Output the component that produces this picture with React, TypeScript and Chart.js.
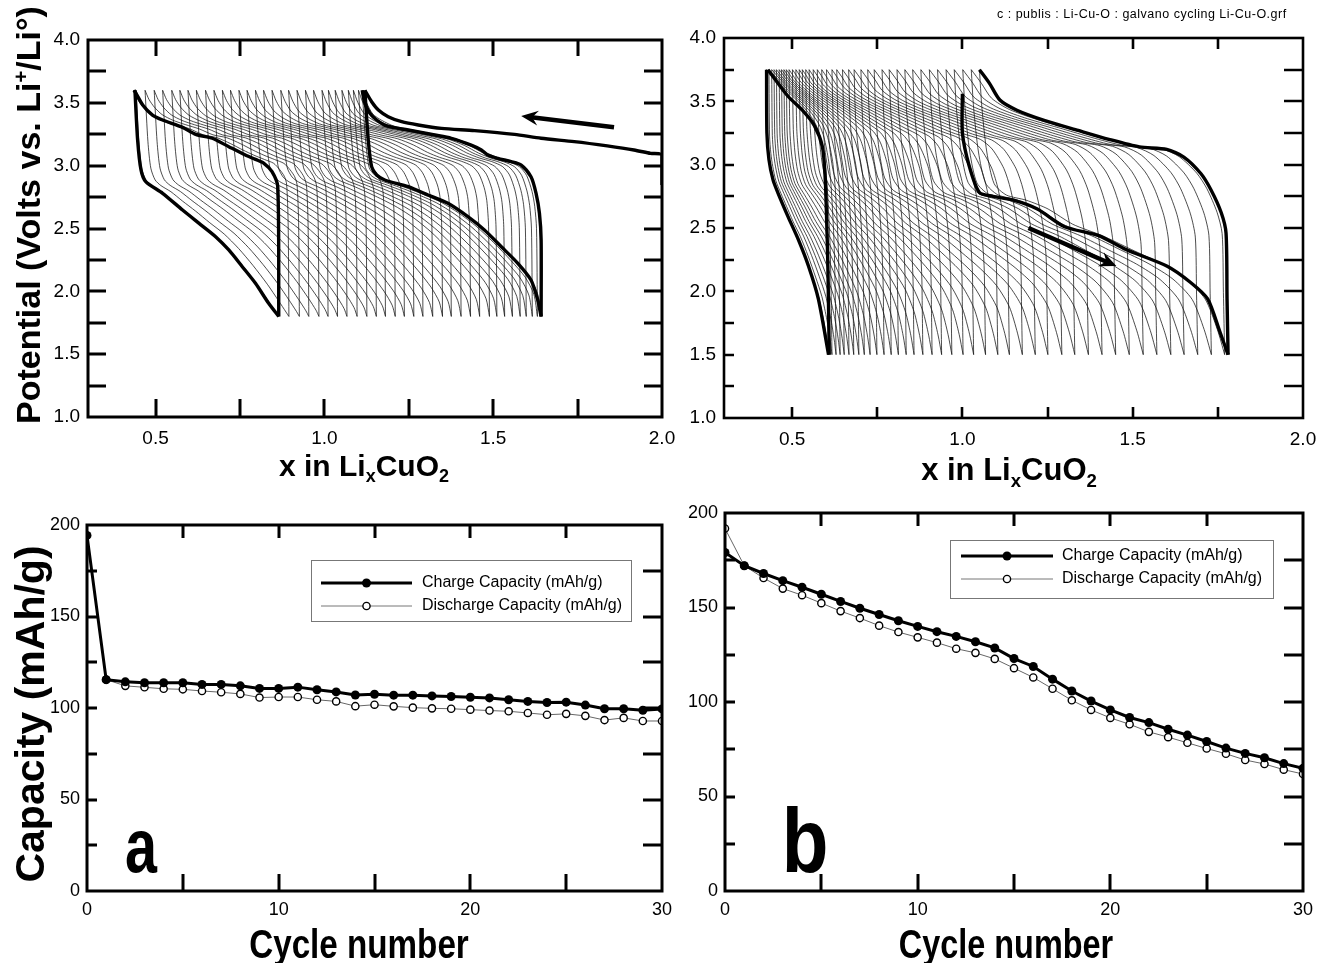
import React, { useEffect, useRef } from 'react';
import { Chart, registerables } from 'chart.js';
Chart.register(...registerables);

// ---------------- Capacity data (panels a, b) ----------------
const capCycles = [0, 1, 2, 3, 4, 5, 6, 7, 8, 9, 10, 11, 12, 13, 14, 15, 16, 17, 18, 19, 20, 21, 22, 23, 24, 25, 26, 27, 28, 29, 30];
const chargeA = [194.3, 115.5, 114.3, 113.8, 113.8, 113.8, 112.9, 112.9, 112.1, 110.7, 110.7, 111.4, 110.0, 108.8, 107.1, 107.5, 107.0, 107.0, 106.6, 106.3, 105.9, 105.5, 104.5, 103.6, 103.0, 103.2, 101.6, 99.6, 99.6, 98.8, 99.5];
const dischargeA = [null, 115.5, 112.1, 111.3, 110.5, 110.2, 109.3, 108.6, 107.7, 105.7, 106.0, 106.0, 104.5, 103.6, 101.0, 101.8, 100.9, 100.2, 99.8, 99.6, 99.1, 98.6, 98.2, 97.3, 96.3, 96.8, 95.7, 93.4, 94.6, 92.9, 92.9];
const chargeB = [179.1, 172.1, 168.0, 164.2, 160.7, 157.0, 153.2, 149.6, 146.3, 143.0, 140.0, 137.2, 134.7, 131.9, 128.6, 123.0, 118.8, 112.1, 105.8, 100.5, 95.8, 91.8, 89.1, 85.6, 82.5, 79.1, 75.6, 72.8, 70.5, 67.4, 64.9];
const dischargeB = [191.8, 172.1, 165.6, 160.0, 156.5, 152.3, 148.1, 144.4, 140.4, 137.0, 134.2, 131.4, 128.2, 126.0, 122.8, 117.9, 113.0, 107.0, 100.9, 95.8, 91.6, 88.2, 84.2, 81.4, 78.4, 75.4, 72.6, 69.3, 67.2, 64.2, 61.9];
const capXLabels = [0, 10, 20, 30];
const capXMarks = [5, 10, 15, 20, 25];
const capYLabels = [0, 50, 100, 150, 200];
const capYMarks = [25, 50, 75, 100, 125, 150, 175];

// ---------------- Galvanostatic data, panel top-left (1.8-3.6 V) ----------------
const tlFirstCharge = [[2.0, 2.846], [2.0, 3.085], [1.966, 3.098], [1.917, 3.125], [1.838, 3.157], [1.74, 3.191], [1.642, 3.218], [1.563, 3.249], [1.445, 3.279], [1.347, 3.297], [1.278, 3.324], [1.229, 3.35], [1.189, 3.39], [1.16, 3.443], [1.14, 3.509], [1.12, 3.6]];
const tlFirstDischarge = [[1.12, 3.6], [1.13, 3.204], [1.14, 2.992], [1.155, 2.926], [1.179, 2.886], [1.248, 2.833], [1.307, 2.767], [1.366, 2.7], [1.425, 2.594], [1.474, 2.488], [1.524, 2.355], [1.573, 2.223], [1.612, 2.09], [1.632, 1.931], [1.642, 1.8]];
const tlSecondCharge = [[1.642, 1.8], [1.642, 2.409], [1.637, 2.621], [1.627, 2.78], [1.612, 2.912], [1.583, 3.005], [1.553, 3.032], [1.514, 3.058], [1.484, 3.085], [1.465, 3.125], [1.435, 3.164], [1.376, 3.218], [1.327, 3.244], [1.248, 3.284], [1.18, 3.32], [1.14, 3.4], [1.12, 3.5], [1.112, 3.6]];
const tlLastCharge = [[0.865, 1.8], [0.862, 2.833], [0.845, 2.952], [0.821, 3.019], [0.796, 3.05], [0.766, 3.085], [0.717, 3.151], [0.668, 3.218], [0.619, 3.249], [0.58, 3.305], [0.521, 3.363], [0.491, 3.403], [0.462, 3.483], [0.442, 3.576], [0.436, 3.6]];
const tlLastDischarge = [[0.439, 3.6], [0.447, 3.204], [0.457, 2.966], [0.471, 2.873], [0.521, 2.78], [0.58, 2.647], [0.629, 2.541], [0.678, 2.435], [0.717, 2.329], [0.757, 2.196], [0.796, 2.064], [0.835, 1.905], [0.865, 1.8]];
// x at 3.6 V (end of each charge) and at 1.8 V (end of each discharge)
const tlTopX = [1.12, 1.112, 1.101, 1.086, 1.071, 1.052, 1.032, 1.012, 0.993, 0.968, 0.944, 0.919, 0.894, 0.871, 0.845, 0.82, 0.796, 0.771, 0.747, 0.722, 0.698, 0.673, 0.648, 0.621, 0.596, 0.572, 0.548, 0.521, 0.496, 0.469, 0.442, 0.436];
const tlBotX = [1.642, 1.631, 1.616, 1.598, 1.58, 1.557, 1.534, 1.511, 1.489, 1.46, 1.433, 1.405, 1.376, 1.35, 1.321, 1.292, 1.265, 1.237, 1.21, 1.181, 1.154, 1.126, 1.097, 1.067, 1.039, 1.011, 0.984, 0.954, 0.926, 0.895, 0.865];
// discharge / charge profiles (fraction of the step, volts) for early and late cycles
const tlDisFrac = [0, 0.02, 0.04, 0.07, 0.11, 0.18, 0.26, 0.35, 0.45, 0.55, 0.65, 0.75, 0.85, 0.93, 0.98, 1];
const tlDisEarly = [3.6, 3.19, 2.985, 2.928, 2.893, 2.86, 2.823, 2.775, 2.715, 2.63, 2.525, 2.395, 2.25, 2.12, 1.98, 1.8];
const tlDisLate = [3.6, 3.19, 2.98, 2.885, 2.84, 2.79, 2.715, 2.635, 2.54, 2.45, 2.335, 2.2, 2.05, 1.915, 1.83, 1.8];
const tlChgFrac = [0, 0.005, 0.015, 0.03, 0.06, 0.1, 0.16, 0.23, 0.3, 0.38, 0.47, 0.56, 0.65, 0.74, 0.82, 0.89, 0.94, 0.975, 1];
const tlChgEarly = [1.8, 2.5, 2.67, 2.79, 2.92, 2.99, 3.03, 3.058, 3.098, 3.16, 3.21, 3.24, 3.265, 3.29, 3.313, 3.36, 3.41, 3.5, 3.6];
const tlChgLate = [1.8, 2.55, 2.86, 2.92, 2.97, 3.02, 3.05, 3.085, 3.125, 3.175, 3.223, 3.246, 3.295, 3.33, 3.365, 3.41, 3.47, 3.53, 3.6];

// ---------------- Galvanostatic data, panel top-right (1.5-3.75 V) ----------------
const trFirstDischarge = [[1.0, 3.56], [1.0, 3.25], [1.02, 2.99], [1.05, 2.78], [1.09, 2.75], [1.15, 2.72], [1.22, 2.65], [1.3, 2.51], [1.4, 2.44], [1.48, 2.33], [1.6, 2.2], [1.67, 2.07], [1.72, 1.94], [1.756, 1.68], [1.78, 1.5]];
const trFirstCharge = [[1.78, 1.5], [1.777, 1.94], [1.774, 2.46], [1.76, 2.62], [1.73, 2.8], [1.7, 2.93], [1.65, 3.06], [1.6, 3.12], [1.52, 3.14], [1.43, 3.2], [1.34, 3.27], [1.24, 3.35], [1.16, 3.43], [1.11, 3.51], [1.08, 3.64], [1.05, 3.75]];
const trLastCharge = [[0.609, 1.5], [0.605, 2.2], [0.601, 2.6], [0.597, 2.9], [0.589, 3.14], [0.565, 3.31], [0.53, 3.43], [0.488, 3.54], [0.429, 3.75]];
const trLastDischarge = [[0.425, 3.75], [0.426, 3.25], [0.432, 3.04], [0.444, 2.88], [0.458, 2.78], [0.488, 2.59], [0.518, 2.41], [0.548, 2.2], [0.577, 1.94], [0.607, 1.5]];
const trTopX = [1.05, 1.026, 1.001, 0.976, 0.952, 0.927, 0.903, 0.878, 0.854, 0.831, 0.808, 0.785, 0.764, 0.741, 0.722, 0.702, 0.682, 0.666, 0.648, 0.631, 0.617, 0.601, 0.587, 0.574, 0.562, 0.55, 0.54, 0.53, 0.521, 0.511, 0.501, 0.491, 0.483, 0.476, 0.469, 0.462, 0.454, 0.447, 0.44, 0.432, 0.425];
const trBotX = [1.78, 1.77, 1.731, 1.691, 1.651, 1.612, 1.571, 1.531, 1.49, 1.45, 1.41, 1.37, 1.33, 1.292, 1.251, 1.214, 1.176, 1.138, 1.104, 1.068, 1.033, 1.002, 0.969, 0.939, 0.911, 0.884, 0.858, 0.835, 0.812, 0.791, 0.77, 0.749, 0.729, 0.712, 0.696, 0.681, 0.667, 0.653, 0.641, 0.629, 0.617, 0.607];
const trDisFrac = [0, 0.01, 0.03, 0.06, 0.11, 0.19, 0.28, 0.38, 0.5, 0.62, 0.74, 0.84, 0.92, 0.97, 1];
const trDisEarly = [3.75, 3.45, 3.1, 2.85, 2.76, 2.72, 2.65, 2.53, 2.44, 2.33, 2.22, 2.1, 1.94, 1.7, 1.5];
const trDisLate = [3.75, 3.22, 3.09, 2.99, 2.875, 2.775, 2.67, 2.555, 2.43, 2.28, 2.11, 1.955, 1.77, 1.62, 1.5];
const trChgFrac = [0, 0.005, 0.01, 0.03, 0.07, 0.11, 0.18, 0.25, 0.36, 0.48, 0.6, 0.74, 0.85, 0.92, 0.96, 1];
const trChgEarly = [1.5, 2.0, 2.47, 2.63, 2.81, 2.93, 3.06, 3.12, 3.14, 3.2, 3.27, 3.35, 3.43, 3.52, 3.64, 3.75];
const trChgLate = [1.5, 1.71, 1.91, 2.38, 2.8, 3.03, 3.22, 3.32, 3.41, 3.48, 3.54, 3.61, 3.67, 3.71, 3.73, 3.75];

const galvXLabels = [0.5, 1.0, 1.5, 2.0];
const galvXMarks = [0.5, 0.75, 1.0, 1.25, 1.5, 1.75];
const galvYLabels = [1.0, 1.5, 2.0, 2.5, 3.0, 3.5, 4.0];
const galvYMarks = [1.25, 1.5, 1.75, 2.0, 2.25, 2.5, 2.75, 3.0, 3.25, 3.5, 3.75];
const tlArrow = [1.858, 3.305, 1.583, 3.395];
const trArrow = [1.194, 2.5, 1.452, 2.2];

// ---------------- helpers ----------------
const W = 1321;
const H = 963;
const FONT = '"Liberation Sans", Arial, sans-serif';

function pts(list) {
  return list.map((p) => ({ x: p[0], y: p[1] }));
}
function stepCurve(x0, x1, fr, vE, vL, w) {
  return fr.map((f, i) => ({ x: x0 + (x1 - x0) * f, y: vE[i] * (1 - w) + vL[i] * w }));
}
function thin(data) {
  return { data, borderColor: 'rgba(15,15,15,0.88)', borderWidth: 0.85, pointRadius: 0, tension: 0.25, showLine: true, order: 2 };
}
function thick(data) {
  return { data, borderColor: '#000', borderWidth: 3.4, pointRadius: 0, tension: 0.25, showLine: true, order: 0 };
}

const framePlugin = {
  id: 'frame',
  afterDatasetsDraw(chart, _args, o) {
    const { ctx, chartArea: a, scales } = chart;
    ctx.save();
    ctx.strokeStyle = '#000';
    ctx.lineWidth = o.lw;
    ctx.lineCap = 'butt';
    ctx.beginPath();
    for (const v of o.xm) {
      const px = Math.round(scales.x.getPixelForValue(v));
      ctx.moveTo(px, a.bottom);
      ctx.lineTo(px, a.bottom - o.tb);
      ctx.moveTo(px, a.top);
      ctx.lineTo(px, a.top + o.tt);
    }
    for (const v of o.ym) {
      const py = Math.round(scales.y.getPixelForValue(v));
      ctx.moveTo(a.left, py);
      ctx.lineTo(a.left + o.tl, py);
      ctx.moveTo(a.right, py);
      ctx.lineTo(a.right - o.tr, py);
    }
    ctx.stroke();
    ctx.strokeRect(a.left, a.top, a.right - a.left, a.bottom - a.top);
    ctx.restore();
  },
};

const arrowPlugin = {
  id: 'arrow',
  afterDatasetsDraw(chart, _args, o) {
    if (!o.a) return;
    const { ctx, scales } = chart;
    const x0 = scales.x.getPixelForValue(o.a[0]);
    const y0 = scales.y.getPixelForValue(o.a[1]);
    const x1 = scales.x.getPixelForValue(o.a[2]);
    const y1 = scales.y.getPixelForValue(o.a[3]);
    const ang = Math.atan2(y1 - y0, x1 - x0);
    const hl = 17;
    const hw = 7.5;
    const c = Math.cos(ang);
    const s = Math.sin(ang);
    ctx.save();
    ctx.strokeStyle = '#000';
    ctx.fillStyle = '#000';
    ctx.lineWidth = 4.5;
    ctx.beginPath();
    ctx.moveTo(x0, y0);
    ctx.lineTo(x1 - c * hl * 0.6, y1 - s * hl * 0.6);
    ctx.stroke();
    ctx.beginPath();
    ctx.moveTo(x1, y1);
    ctx.lineTo(x1 - c * hl + s * hw, y1 - s * hl - c * hw);
    ctx.lineTo(x1 - c * hl * 0.65, y1 - s * hl * 0.65);
    ctx.lineTo(x1 - c * hl - s * hw, y1 - s * hl + c * hw);
    ctx.closePath();
    ctx.fill();
    ctx.restore();
  },
};

const legendPlugin = {
  id: 'boxlegend',
  afterDatasetsDraw(chart, _args, o) {
    if (!o.box) return;
    const { ctx } = chart;
    const [bx, by, bw, bh] = o.box;
    ctx.save();
    ctx.strokeStyle = '#777';
    ctx.lineWidth = 1;
    ctx.strokeRect(bx + 0.5, by + 0.5, bw, bh);
    const rows = [
      { label: 'Charge Capacity (mAh/g)', lw: 3, color: '#000', filled: true, y: by + o.r1 },
      { label: 'Discharge Capacity (mAh/g)', lw: 1, color: '#777', filled: false, y: by + o.r2 },
    ];
    for (const r of rows) {
      ctx.strokeStyle = r.color;
      ctx.lineWidth = r.lw;
      ctx.beginPath();
      ctx.moveTo(bx + o.l0, r.y);
      ctx.lineTo(bx + o.l1, r.y);
      ctx.stroke();
      const mx = bx + (o.l0 + o.l1) / 2;
      ctx.beginPath();
      ctx.arc(mx, r.y, r.filled ? 4.5 : 3.6, 0, Math.PI * 2);
      if (r.filled) {
        ctx.fillStyle = '#000';
        ctx.fill();
      } else {
        ctx.fillStyle = '#fff';
        ctx.fill();
        ctx.strokeStyle = '#000';
        ctx.lineWidth = 1.4;
        ctx.stroke();
      }
      ctx.fillStyle = '#000';
      ctx.font = '16px ' + FONT;
      ctx.textBaseline = 'middle';
      ctx.textAlign = 'left';
      ctx.fillText(r.label, bx + o.tx, r.y);
    }
    ctx.restore();
  },
};

function scaleCfg(min, max, labels, fmt, size, pad, boxSize, axisType) {
  return {
    type: 'linear',
    min,
    max,
    afterBuildTicks: (ax) => {
      ax.ticks = labels.map((v) => ({ value: v }));
    },
    afterFit: (ax) => {
      if (axisType === 'x') ax.height = boxSize;
      else ax.width = boxSize;
      ax.paddingLeft = 0;
      ax.paddingRight = 0;
      ax.paddingTop = 0;
      ax.paddingBottom = 0;
    },
    grid: { display: false, drawTicks: false },
    border: { display: false },
    ticks: {
      autoSkip: false,
      maxRotation: 0,
      padding: pad,
      color: '#000',
      font: { family: FONT, size },
      callback: (v) => fmt(Number(v)),
    },
  };
}

function baseOptions(area, xs, ys, frame, extra) {
  return {
    responsive: false,
    animation: false,
    devicePixelRatio: 1,
    events: [],
    layout: { padding: { left: 0, top: area[1], right: W - area[2], bottom: 0 } },
    scales: { x: xs, y: ys },
    plugins: Object.assign({ legend: { display: false }, tooltip: { enabled: false }, title: { display: false }, frame }, extra),
  };
}

function galvTL() {
  const ds = [];
  for (let k = 0; k < tlBotX.length; k++) {
    const w = k / (tlBotX.length - 1);
    ds.push(thin(stepCurve(tlTopX[k], tlBotX[k], tlDisFrac, tlDisEarly, tlDisLate, w)));
    ds.push(thin(stepCurve(tlBotX[k], tlTopX[k + 1], tlChgFrac, tlChgEarly, tlChgLate, w)));
  }
  [tlFirstCharge, tlFirstDischarge, tlSecondCharge, tlLastCharge, tlLastDischarge].forEach((c) => ds.push(thick(pts(c))));
  const f1 = (v) => v.toFixed(1);
  const area = [88, 40, 662, 417];
  return {
    type: 'scatter',
    data: { datasets: ds },
    options: baseOptions(
      area,
      scaleCfg(0.3, 2.0, galvXLabels, f1, 19, 10, H - area[3], 'x'),
      scaleCfg(1.0, 4.0, galvYLabels, f1, 19, 8, area[0], 'y'),
      { lw: 3, xm: galvXMarks, ym: galvYMarks, tl: 18, tr: 18, tt: 16, tb: 18 },
      { arrow: { a: tlArrow } }
    ),
    plugins: [framePlugin, arrowPlugin],
  };
}

function galvTR() {
  const ds = [];
  for (let k = 0; k < trTopX.length; k++) {
    const w = k / (trTopX.length - 1);
    ds.push(thin(stepCurve(trTopX[k], trBotX[k + 1], trDisFrac, trDisEarly, trDisLate, w)));
    if (k + 1 < trTopX.length) {
      const w2 = (k + 1) / (trTopX.length - 1);
      ds.push(thin(stepCurve(trBotX[k + 1], trTopX[k + 1], trChgFrac, trChgEarly, trChgLate, w2)));
    }
  }
  [trFirstDischarge, trFirstCharge, trLastCharge, trLastDischarge].forEach((c) => ds.push(thick(pts(c))));
  const f1 = (v) => v.toFixed(1);
  const area = [724, 38, 1303, 418];
  return {
    type: 'scatter',
    data: { datasets: ds },
    options: baseOptions(
      area,
      scaleCfg(0.3, 2.0, galvXLabels, f1, 19, 10, H - area[3], 'x'),
      scaleCfg(1.0, 4.0, galvYLabels, f1, 19, 8, area[0], 'y'),
      { lw: 2.6, xm: galvXMarks, ym: galvYMarks, tl: 10, tr: 19, tt: 11, tb: 11 },
      { arrow: { a: trArrow } }
    ),
    plugins: [framePlugin, arrowPlugin],
  };
}

function capChart(area, charge, discharge, legend) {
  const f0 = (v) => String(Math.round(v));
  return {
    type: 'scatter',
    data: {
      datasets: [
        {
          data: capCycles.map((c, i) => ({ x: c, y: charge[i] })),
          showLine: true,
          borderColor: '#000',
          borderWidth: 3,
          pointRadius: 4.5,
          pointBackgroundColor: '#000',
          pointBorderColor: '#000',
          pointBorderWidth: 0,
          order: 0,
        },
        {
          data: capCycles.map((c, i) => ({ x: c, y: discharge[i] })).filter((p) => p.y !== null),
          showLine: true,
          borderColor: '#666',
          borderWidth: 1,
          pointRadius: 3.6,
          pointBackgroundColor: '#fff',
          pointBorderColor: '#000',
          pointBorderWidth: 1.4,
          order: 1,
        },
      ],
    },
    options: baseOptions(
      area,
      scaleCfg(0, 30, capXLabels, f0, 18, 8, H - area[3], 'x'),
      scaleCfg(0, 200, capYLabels, f0, 18, 7, area[0], 'y'),
      { lw: 3, xm: capXMarks, ym: capYMarks, tl: 10, tr: 19, tt: 13, tb: 17 },
      { boxlegend: legend }
    ),
    plugins: [framePlugin, legendPlugin],
  };
}

const abs = (left, top, style) => Object.assign({ position: 'absolute', left, top, whiteSpace: 'nowrap', lineHeight: 1 }, style);
const supStyle = { fontSize: '0.6em', position: 'relative', top: '-0.6em' };
const subStyle = { fontSize: '0.6em', position: 'relative', top: '0.35em' };

export default function App() {
  const r1 = useRef(null);
  const r2 = useRef(null);
  const r3 = useRef(null);
  const r4 = useRef(null);
  useEffect(() => {
    const charts = [
      new Chart(r1.current, galvTL()),
      new Chart(r2.current, galvTR()),
      new Chart(r3.current, capChart([87, 525, 662, 891], chargeA, dischargeA, { box: [311, 560, 320, 61], r1: 23, r2: 46, l0: 10, l1: 101, tx: 111 })),
      new Chart(r4.current, capChart([725, 513, 1303, 891], chargeB, dischargeB, { box: [950, 540, 323, 58], r1: 16, r2: 39, l0: 11, l1: 103, tx: 112 })),
    ];
    return () => charts.forEach((c) => c.destroy());
  }, []);
  const cv = { position: 'absolute', left: 0, top: 0 };
  const bold = { fontFamily: FONT, fontWeight: 'bold', color: '#000' };
  return (
    <div style={{ position: 'absolute', left: 0, top: 0, width: W, height: H, background: '#fff', overflow: 'hidden' }}>
      <canvas ref={r1} width={W} height={H} style={cv} />
      <canvas ref={r2} width={W} height={H} style={cv} />
      <canvas ref={r3} width={W} height={H} style={cv} />
      <canvas ref={r4} width={W} height={H} style={cv} />
      <div style={abs(28, 215, Object.assign({}, bold, { fontSize: 34, transform: 'translate(-50%,-50%) rotate(-90deg)' }))}>
        Potential (Volts vs. Li<span style={supStyle}>+</span>/Li°)
      </div>
      <div style={abs(364, 466, Object.assign({}, bold, { fontSize: 30, transform: 'translate(-50%,-50%)' }))}>
        x in Li<span style={subStyle}>x</span>CuO<span style={subStyle}>2</span>
      </div>
      <div style={abs(1009, 469, Object.assign({}, bold, { fontSize: 31, transform: 'translate(-50%,-50%)' }))}>
        x in Li<span style={subStyle}>x</span>CuO<span style={subStyle}>2</span>
      </div>
      <div style={abs(30, 714, Object.assign({}, bold, { fontSize: 41, transform: 'translate(-50%,-50%) rotate(-90deg)' }))}>
        Capacity (mAh/g)
      </div>
      <div style={abs(359, 944, Object.assign({}, bold, { fontSize: 40, transform: 'translate(-50%,-50%) scaleX(0.83)' }))}>Cycle number</div>
      <div style={abs(1006, 944, Object.assign({}, bold, { fontSize: 40, transform: 'translate(-50%,-50%) scaleX(0.81)' }))}>Cycle number</div>
      <div style={abs(141, 846, Object.assign({}, bold, { fontSize: 76, transform: 'translate(-50%,-50%) scaleX(0.76)' }))}>a</div>
      <div style={abs(805, 841, Object.assign({}, bold, { fontSize: 90, transform: 'translate(-50%,-50%) scaleX(0.85)' }))}>b</div>
      <div style={abs(997, 8, { fontFamily: FONT, fontSize: 12.5, letterSpacing: 0.5, color: '#000' })}>c : publis : Li-Cu-O : galvano cycling Li-Cu-O.grf</div>
    </div>
  );
}
